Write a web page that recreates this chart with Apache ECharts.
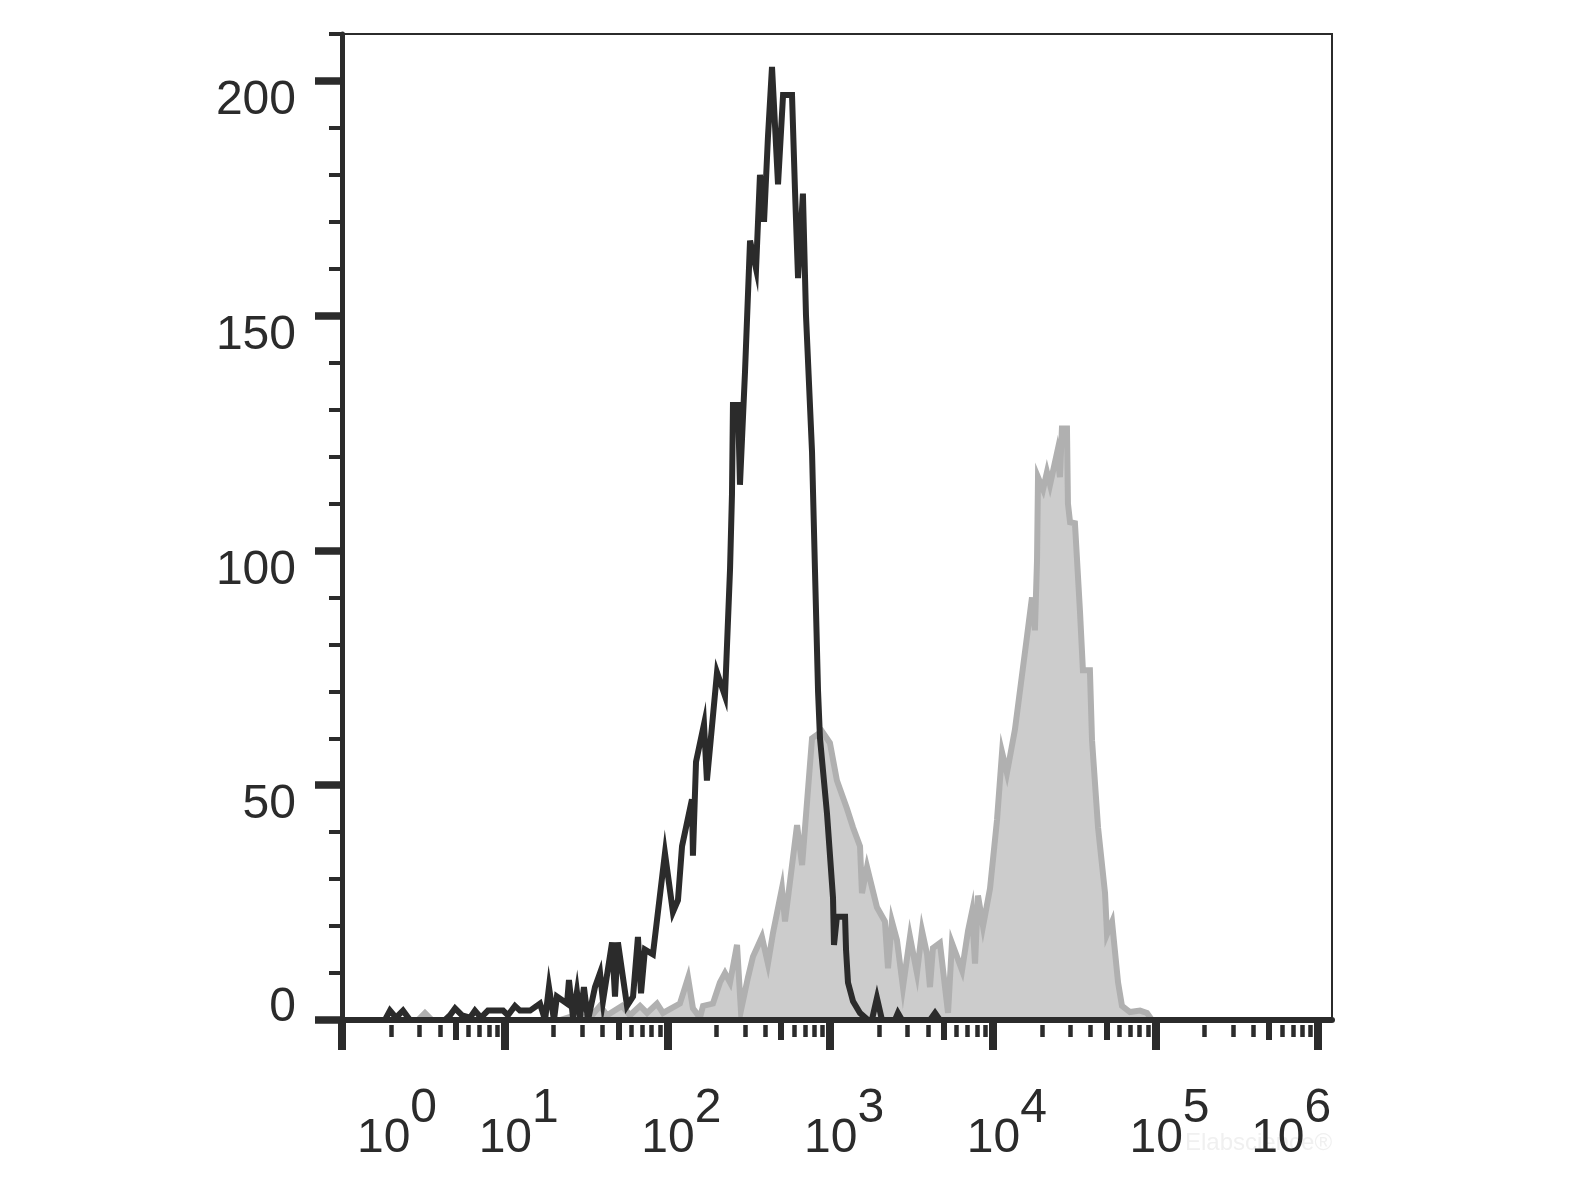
<!DOCTYPE html>
<html><head><meta charset="utf-8">
<script src="https://cdn.jsdelivr.net/npm/echarts@6/dist/echarts.min.js"></script>
<style>html,body{margin:0;padding:0;background:#fff}#c{width:1576px;height:1182px}</style>
</head><body><div id="c"></div>
<script>
// ---- data ----
const decades = [0, 1, 2, 3, 4, 5, 6];               // x axis decades (log10 of intensity)
const decadeLabels = ['0', '1', '2', '3', '4', '5', '6'];
const minorMultipliers = [2, 3, 4, 6, 7, 8, 9];
const midMultipliers = [5];
const yMajorTicks = [0, 50, 100, 150, 200];
const yMinorTicks = [0, 10, 20, 30, 40, 50, 60, 70, 80, 90, 100, 110, 120, 130, 140, 150, 160, 170, 180, 190, 200, 210];

// black (control) histogram: log10 intensity, counts
const blackLogX = [0, 0.264, 0.295, 0.332, 0.375, 0.418, 0.633, 0.664, 0.695, 0.738,
  0.787, 0.817, 0.854, 0.897, 0.990, 1.020, 1.063, 1.094, 1.156, 1.217,
  1.248, 1.272, 1.303, 1.321, 1.383, 1.395, 1.420, 1.444, 1.463, 1.487,
  1.512, 1.555, 1.586, 1.604, 1.660, 1.678, 1.696, 1.752, 1.789, 1.819,
  1.838, 1.862, 1.911, 1.985, 2.034, 2.065, 2.090, 2.151, 2.157, 2.176,
  2.225, 2.243, 2.305, 2.354, 2.385, 2.397, 2.403, 2.434, 2.446, 2.477,
  2.508, 2.545, 2.569, 2.594, 2.618, 2.643, 2.680, 2.711, 2.766, 2.784,
  2.803, 2.833, 2.852, 2.889, 2.907, 2.926, 2.938, 2.981, 3.018, 3.024,
  3.042, 3.092, 3.098, 3.110, 3.141, 3.184, 3.233, 3.257, 3.288, 3.319,
  3.399, 3.417, 3.442, 3.614, 3.645, 3.675, 6.085];
const blackCount = [0, 0, 2, 0.5, 2, 0, 0, 1, 2.5, 1,
  0.5, 2, 0.5, 2, 2, 1, 3, 2, 2, 3.5,
  0, 7, 0, 5, 3.5, 8.5, 0.5, 6, 0.5, 7,
  0, 7, 10, 4, 16.5, 5, 16.5, 3, 5, 17.7,
  5.7, 15, 14, 35.5, 23, 25.5, 37, 47, 35, 55,
  63, 51, 74, 69, 96, 112, 131, 131, 114, 138,
  166, 160, 180, 170, 188, 203, 178, 197, 197, 177,
  158, 176, 150, 121, 96, 70, 60, 44, 26, 16,
  22, 22, 15, 8, 4, 1.5, 0, 0, 4.7, 0,
  0, 1.5, 0, 0, 1.5, 0, 0];

// gray (stained) histogram
const grayLogX = [0, 0.467, 0.510, 0.553, 1.340, 1.432, 1.524, 1.586, 1.629, 1.721,
  1.770, 1.832, 1.875, 1.936, 1.973, 2.077, 2.127, 2.157, 2.200, 2.219,
  2.280, 2.323, 2.354, 2.385, 2.428, 2.452, 2.495, 2.526, 2.581, 2.618,
  2.649, 2.704, 2.723, 2.797, 2.828, 2.889, 2.950, 2.999, 3.042, 3.104,
  3.141, 3.184, 3.196, 3.227, 3.288, 3.337, 3.356, 3.380, 3.411, 3.448,
  3.491, 3.534, 3.565, 3.596, 3.614, 3.632, 3.675, 3.725, 3.749, 3.811,
  3.848, 3.872, 3.891, 3.909, 3.940, 3.983, 4.026, 4.057, 4.087, 4.136,
  4.210, 4.241, 4.259, 4.272, 4.278, 4.309, 4.333, 4.352, 4.395, 4.413,
  4.425, 4.456, 4.462, 4.475, 4.505, 4.536, 4.554, 4.597, 4.610, 4.647,
  4.690, 4.702, 4.733, 4.770, 4.794, 4.843, 4.905, 4.948, 4.978, 6.085];
const grayCount = [0, 0, 1.5, 0, 0, 1, 0.5, 3, 1, 3,
  1, 3, 1.5, 3.5, 1.5, 3.5, 9, 2.5, 0.5, 3,
  3.5, 8, 10, 8, 16, 2, 9, 13.5, 17.7, 12,
  18.5, 28, 21, 41.5, 33, 60, 61.5, 59, 51, 45,
  41, 37, 27, 32.6, 24, 21, 11, 21, 17, 7,
  17.7, 10, 19, 14, 7, 15.3, 16.4, 1.5, 16.4, 10.6,
  19, 23, 12, 26.5, 20, 28, 42.6, 57, 52.6, 61.8,
  81.6, 90, 83, 98, 115.6, 113, 116.7, 114, 120.8, 115.6,
  126, 126, 110, 106, 105.8, 87, 74.5, 74.5, 59.6, 41,
  27, 18.3, 20.9, 8, 3, 1.7, 2, 1.5, 0, 0];

// ---- chart ----
const FONT = "'Liberation Sans', Arial, Helvetica, sans-serif";
const INK = '#2b2b2b';
const XMAX = 6.085, YMAX = 210;

const majorX = decades.slice();
const midX = [], minorX = [];
decades.slice(0, -1).forEach(d => {
  midMultipliers.forEach(k => midX.push(d + Math.log10(k)));
  minorMultipliers.forEach(k => minorX.push(d + Math.log10(k)));
});

function tickXAxis(values, len, w) {
  return {
    type: 'value', min: 0, max: XMAX, position: 'bottom', offset: 5, gridIndex: 0,
    axisLine: { show: false }, axisLabel: { show: false }, splitLine: { show: false },
    axisTick: { show: true, customValues: values, length: len, lineStyle: { color: INK, width: w } },
    z: 5
  };
}

const txt = { fontSize: 48, fontFamily: FONT, color: INK };

const option = {
  animation: false,
  backgroundColor: '#ffffff',
  title: {
    text: 'Elabscience®', left: 1180, top: 1126, z: 0,
    textStyle: { fontSize: 24, fontWeight: 'normal', color: '#f0f0f0', fontFamily: FONT }
  },
  grid: {
    left: 342, top: 34, width: 990, height: 986,
    show: true, borderColor: INK, borderWidth: 2, backgroundColor: 'transparent',
    containLabel: false, outerBoundsMode: 'none'
  },
  xAxis: [
    {
      type: 'value', min: 0, max: XMAX, position: 'bottom', gridIndex: 0,
      axisLine: { show: true, onZero: false, lineStyle: { color: INK, width: 6 } },
      axisTick: { show: false }, splitLine: { show: false },
      axisLabel: {
        show: true, customValues: majorX, margin: 65,
        formatter: function (v) {
          const i = decades.indexOf(Math.round(v));
          const s = decadeLabels[i];
          if (i === 0) return '{p0| }{b|10}{s|' + s + '}';
          if (i === decades.length - 1) return '{b|10}{s|' + s + '}{p6| }';
          return '{p| }{b|10}{s|' + s + '}';
        },
        rich: {
          b: Object.assign({ verticalAlign: 'bottom' }, txt),
          s: Object.assign({ verticalAlign: 'top', padding: [0, 0, 30, 0] }, txt),
          p: { width: 28, fontSize: 10 },
          p0: { width: 110, fontSize: 10 },
          p6: { width: 54, fontSize: 10 }
        }
      },
      z: 6
    },
    tickXAxis(majorX, 30, 8),
    tickXAxis(midX, 20, 6),
    tickXAxis(minorX, 12, 4.5)
  ],
  yAxis: [
    {
      type: 'value', min: 0, max: YMAX, position: 'left', gridIndex: 0,
      axisLine: { show: true, onZero: false, lineStyle: { color: INK, width: 5 } },
      axisTick: { show: true, customValues: yMajorTicks, length: 27, lineStyle: { color: INK, width: 7.5 } },
      splitLine: { show: false },
      axisLabel: {
        show: true, customValues: yMajorTicks, margin: 46,
        formatter: function (v) { return v === 0 ? '{z|0}' : '{n|' + v + '}'; },
        rich: {
          n: Object.assign({ padding: [40, 0, 0, 0] }, txt),
          z: Object.assign({ padding: [0, 0, 24, 0] }, txt)
        }
      },
      z: 6
    },
    {
      type: 'value', min: 0, max: YMAX, position: 'left', gridIndex: 0,
      axisLine: { show: false }, axisLabel: { show: false }, splitLine: { show: false },
      axisTick: { show: true, customValues: yMinorTicks, length: 13, lineStyle: { color: INK, width: 4 } },
      z: 5
    }
  ],
  series: [
    {
      name: 'stained', type: 'line', xAxisIndex: 0, yAxisIndex: 0,
      data: grayLogX.map((x, i) => [x, grayCount[i]]),
      symbol: 'none', showSymbol: false, silent: true,
      lineStyle: { color: '#b0b0b0', width: 6, join: 'miter', miterLimit: 8 },
      areaStyle: { color: '#cccccc', opacity: 1 },
      z: 2
    },
    {
      name: 'control', type: 'line', xAxisIndex: 0, yAxisIndex: 0,
      data: blackLogX.map((x, i) => [x, blackCount[i]]),
      symbol: 'none', showSymbol: false, silent: true,
      lineStyle: { color: INK, width: 6, join: 'miter', miterLimit: 8 },
      z: 3
    }
  ]
};

const chart = echarts.init(document.getElementById('c'), null, { renderer: 'canvas' });
chart.setOption(option);
</script>
</body></html>
